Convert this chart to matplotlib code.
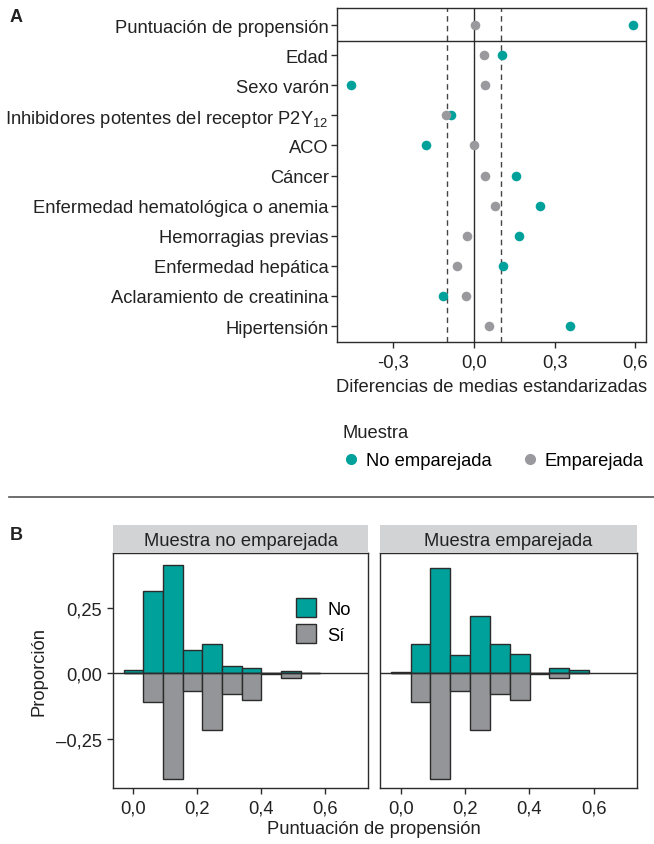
import matplotlib
matplotlib.use("Agg")
import matplotlib.pyplot as plt
from matplotlib.patches import Patch
from matplotlib.lines import Line2D

plt.rcParams['font.family'] = ['Liberation Sans', 'DejaVu Sans']
plt.rcParams['mathtext.fontset'] = 'custom'
plt.rcParams['mathtext.rm'] = 'Liberation Sans'
plt.rcParams['mathtext.it'] = 'Liberation Sans'
plt.rcParams['mathtext.default'] = 'regular'

TEAL = '#00A09B'
GRAY_PT = '#9A9A9E'
GRAY_BAR = '#939598'
EDGE = '#2b2b2b'
STRIP = '#D1D3D4'
TXT = '#222222'

# Panel A data
variables = ['Puntuación de propensión', 'Edad', 'Sexo varón',
             'Inhibidores potentes del receptor P2Y$_{12}$', 'ACO', 'Cáncer',
             'Enfermedad hematológica o anemia', 'Hemorragias previas',
             'Enfermedad hepática', 'Aclaramiento de creatinina', 'Hipertensión']
smd_unmatched = [0.59, 0.104, -0.457, -0.083, -0.176, 0.156, 0.244, 0.167, 0.107, -0.113, 0.356]
smd_matched = [0.004, 0.038, 0.043, -0.104, 0.0, 0.043, 0.077, -0.027, -0.061, -0.031, 0.058]
xticks_a = [-0.3, 0.0, 0.3, 0.6]
xticklabels_a = ['-0,3', '0,0', '0,3', '0,6']

# Panel B data
bin_centers = [0.0, 0.062, 0.123, 0.185, 0.247, 0.308, 0.370, 0.432, 0.493, 0.555]
bin_width = 0.0617
unm_no = [0.014, 0.318, 0.417, 0.092, 0.112, 0.027, 0.023, 0.002, 0.008, 0.001]
unm_si = [0.0, -0.109, -0.403, -0.066, -0.216, -0.079, -0.102, -0.001, -0.018, 0.0]
mat_no = [0.006, 0.112, 0.405, 0.070, 0.220, 0.112, 0.076, 0.001, 0.022, 0.013]
mat_si = [0.0, -0.109, -0.403, -0.066, -0.216, -0.079, -0.102, -0.001, -0.017, 0.0]
xticks_b = [0.0, 0.2, 0.4, 0.6]
xticklabels_b = ['0,0', '0,2', '0,4', '0,6']
yticks_b = [-0.25, 0.0, 0.25]
yticklabels_b = ['\u20130,25', '0,00', '0,25']

W, H = 654, 845
fig = plt.figure(figsize=(W / 100, H / 100), dpi=100)
FS = 13.2


def frac(l, t, r, b):
    return [l / W, 1 - b / H, (r - l) / W, (b - t) / H]


def style_axes(ax):
    for s in ax.spines.values():
        s.set_color(EDGE)
        s.set_linewidth(1.0)
    ax.tick_params(direction='out', length=4, width=1, color=EDGE,
                   labelsize=FS, labelcolor=TXT, pad=4)


# ---- Panel A ----
axA = fig.add_axes(frac(337, 9, 646, 343))
style_axes(axA)
ys = list(range(len(variables)))
axA.axvline(0, color=EDGE, lw=1.0, zorder=1)
axA.axvline(-0.1, color='#444444', lw=1.0, ls=(0, (4, 3)), zorder=1)
axA.axvline(0.1, color='#444444', lw=1.0, ls=(0, (4, 3)), zorder=1)
axA.axhline(0.53, color=EDGE, lw=1.0, zorder=1)
axA.scatter(smd_unmatched, ys, s=48, color=TEAL, zorder=3, linewidths=0)
axA.scatter(smd_matched, ys, s=48, color=GRAY_PT, zorder=4, linewidths=0)
axA.set_ylim(10.53, -0.565)
axA.set_xlim(-0.508, 0.639)
axA.set_yticks(ys)
axA.set_yticklabels(variables)
axA.tick_params(axis='y', pad=2)
axA.set_xticks(xticks_a)
axA.set_xticklabels(xticklabels_a)
axA.set_xlabel('Diferencias de medias estandarizadas', fontsize=FS, color=TXT, labelpad=6)

fig.text(10 / W, 1 - 18 / H, 'A', fontsize=13, fontweight='bold', va='center', color=TXT)
fig.text(10 / W, 1 - 536 / H, 'B', fontsize=13, fontweight='bold', va='center', color=TXT)

# legend of panel A
fig.text(343 / W, 1 - 433 / H, 'Muestra', fontsize=FS, va='center', color=TXT)
handles = [Line2D([], [], marker='o', ls='', color=TEAL, markersize=7, label='No emparejada'),
           Line2D([], [], marker='o', ls='', color=GRAY_PT, markersize=7, label='Emparejada')]
fig.legend(handles=handles, loc='center left', bbox_to_anchor=(333 / W, 1 - 462 / H),
           ncol=2, frameon=False, fontsize=FS, handletextpad=0.2, columnspacing=1.5,
           handlelength=1.2, borderaxespad=0)

# separator line
fig.add_artist(Line2D([9 / W, 1], [1 - 498 / H, 1 - 498 / H], color='#555555', lw=1.2))

# ---- Panel B ----
panels = [((113, 368), 'Muestra no emparejada', unm_no, unm_si),
          ((380, 637), 'Muestra emparejada', mat_no, mat_si)]
axesB = []
for (l, r), title, no_vals, si_vals in panels:
    ax = fig.add_axes(frac(l, 554, r, 789))
    style_axes(ax)
    ax.bar(bin_centers, no_vals, width=bin_width, color=TEAL, edgecolor=EDGE, lw=1.0, zorder=2)
    ax.bar(bin_centers, si_vals, width=bin_width, color=GRAY_BAR, edgecolor=EDGE, lw=1.0, zorder=2)
    ax.axhline(0, color=EDGE, lw=1.0, zorder=3)
    ax.set_xlim(-0.064, 0.735)
    ax.set_ylim(-0.439, 0.462)
    ax.set_xticks(xticks_b)
    ax.set_xticklabels(xticklabels_b)
    ax.set_yticks(yticks_b)
    # strip
    sax = fig.add_axes(frac(l, 526, r, 554))
    sax.set_facecolor(STRIP)
    sax.set_xticks([])
    sax.set_yticks([])
    for s in sax.spines.values():
        s.set_visible(False)
    sax.text(0.5, 0.45, title, ha='center', va='center', fontsize=FS, color=TXT,
             transform=sax.transAxes)
    axesB.append(ax)

axesB[0].set_yticklabels(yticklabels_b)
axesB[0].set_ylabel('Proporción', fontsize=FS, color=TXT, labelpad=6)
axesB[1].tick_params(axis='y', length=0, labelleft=False)
axesB[1].set_yticks([])

leg_handles = [Patch(facecolor=TEAL, edgecolor=EDGE, label='No'),
               Patch(facecolor=GRAY_BAR, edgecolor=EDGE, label='Sí')]
axesB[0].legend(handles=leg_handles, loc='upper left', bbox_to_anchor=(0.69, 0.84),
                frameon=False, fontsize=FS, handlelength=1.1, handleheight=1.2,
                handletextpad=0.6, labelspacing=0.35, borderaxespad=0)

fig.text((368 + 380) / 2 / W, 1 - 830 / H, 'Puntuación de propensión', ha='center',
         va='center', fontsize=FS, color=TXT)

fig.savefig('out.png', dpi=100)
